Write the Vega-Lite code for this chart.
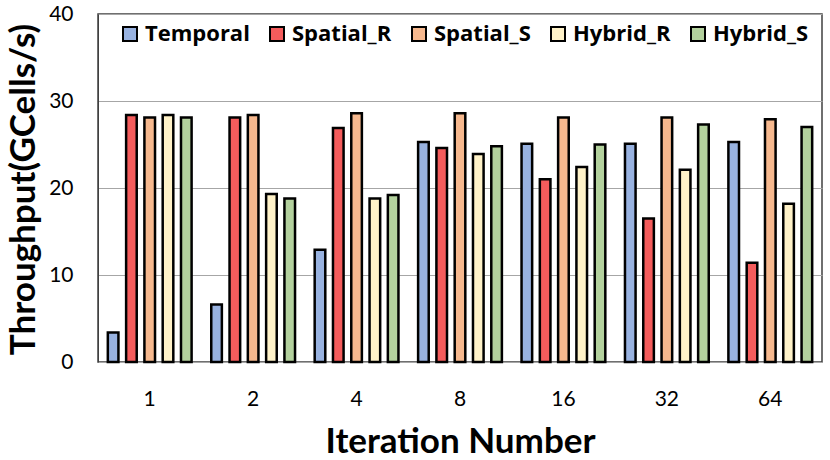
{
  "$schema": "https://vega.github.io/schema/vega-lite/v6.json",
  "autosize": "none",
  "width": 724,
  "height": 348,
  "padding": {"left": 98, "top": 14, "right": 8, "bottom": 98},
  "background": "white",
  "config": {
    "font": "Lato",
    "view": {"stroke": "#404040", "strokeWidth": 1.5}
  },
  "data": {
    "values": [
      {"iter": 1, "series": "Temporal", "value": 3.4},
      {"iter": 1, "series": "Spatial_R", "value": 28.4},
      {"iter": 1, "series": "Spatial_S", "value": 28.1},
      {"iter": 1, "series": "Hybrid_R", "value": 28.4},
      {"iter": 1, "series": "Hybrid_S", "value": 28.1},
      {"iter": 2, "series": "Temporal", "value": 6.6},
      {"iter": 2, "series": "Spatial_R", "value": 28.1},
      {"iter": 2, "series": "Spatial_S", "value": 28.4},
      {"iter": 2, "series": "Hybrid_R", "value": 19.3},
      {"iter": 2, "series": "Hybrid_S", "value": 18.8},
      {"iter": 4, "series": "Temporal", "value": 12.9},
      {"iter": 4, "series": "Spatial_R", "value": 26.9},
      {"iter": 4, "series": "Spatial_S", "value": 28.6},
      {"iter": 4, "series": "Hybrid_R", "value": 18.8},
      {"iter": 4, "series": "Hybrid_S", "value": 19.2},
      {"iter": 8, "series": "Temporal", "value": 25.3},
      {"iter": 8, "series": "Spatial_R", "value": 24.6},
      {"iter": 8, "series": "Spatial_S", "value": 28.6},
      {"iter": 8, "series": "Hybrid_R", "value": 23.9},
      {"iter": 8, "series": "Hybrid_S", "value": 24.8},
      {"iter": 16, "series": "Temporal", "value": 25.1},
      {"iter": 16, "series": "Spatial_R", "value": 21.0},
      {"iter": 16, "series": "Spatial_S", "value": 28.1},
      {"iter": 16, "series": "Hybrid_R", "value": 22.4},
      {"iter": 16, "series": "Hybrid_S", "value": 25.0},
      {"iter": 32, "series": "Temporal", "value": 25.1},
      {"iter": 32, "series": "Spatial_R", "value": 16.5},
      {"iter": 32, "series": "Spatial_S", "value": 28.1},
      {"iter": 32, "series": "Hybrid_R", "value": 22.1},
      {"iter": 32, "series": "Hybrid_S", "value": 27.3},
      {"iter": 64, "series": "Temporal", "value": 25.3},
      {"iter": 64, "series": "Spatial_R", "value": 11.4},
      {"iter": 64, "series": "Spatial_S", "value": 27.9},
      {"iter": 64, "series": "Hybrid_R", "value": 18.2},
      {"iter": 64, "series": "Hybrid_S", "value": 27.0}
    ]
  },
  "mark": {"type": "bar", "stroke": "black", "strokeWidth": 2.5},
  "encoding": {
    "x": {
      "field": "iter",
      "type": "ordinal",
      "title": "Iteration Number",
      "scale": {"paddingInner": 0.19, "paddingOuter": 0.095},
      "axis": {
        "labelAngle": 0,
        "labelFontSize": 21,
        "labelColor": "black",
        "labelPadding": 26,
        "ticks": false,
        "domainColor": "#a6a6a6",
        "titleFontSize": 35,
        "titleFontWeight": "bold",
        "titleColor": "black",
        "titleBaseline": "middle",
        "titleY": 79
      }
    },
    "xOffset": {
      "field": "series",
      "type": "nominal",
      "sort": ["Temporal", "Spatial_R", "Spatial_S", "Hybrid_R", "Hybrid_S"],
      "scale": {"paddingInner": 0.42, "paddingOuter": 0}
    },
    "y": {
      "field": "value",
      "type": "quantitative",
      "title": "Throughput(GCells/s)",
      "scale": {"domain": [0, 40]},
      "axis": {
        "values": [0, 10, 20, 30, 40],
        "labelFontSize": 21,
        "labelColor": "black",
        "labelPadding": 25,
        "ticks": false,
        "domainColor": "#404040",
        "gridColor": "#a6a6a6",
        "titleFontSize": 35,
        "titleFontWeight": "bold",
        "titleColor": "black",
        "titleBaseline": "middle",
        "titleX": -75,
        "titleY": 175
      }
    },
    "color": {
      "field": "series",
      "type": "nominal",
      "sort": ["Temporal", "Spatial_R", "Spatial_S", "Hybrid_R", "Hybrid_S"],
      "scale": {
        "domain": ["Temporal", "Spatial_R", "Spatial_S", "Hybrid_R", "Hybrid_S"],
        "range": ["#98b2e0", "#f45c5c", "#f6b88e", "#fff2c8", "#b3d19d"]
      },
      "legend": {
        "title": null,
        "orient": "none",
        "legendX": 21,
        "legendY": 9,
        "direction": "horizontal",
        "symbolType": "square",
        "symbolSize": 196,
        "symbolStrokeColor": "black",
        "symbolStrokeWidth": 2,
        "labelFont": "Open Sans",
        "labelFontSize": 22,
        "labelFontWeight": "bold",
        "labelColor": "black",
        "labelOffset": 4,
        "columnPadding": 16
      }
    }
  }
}
